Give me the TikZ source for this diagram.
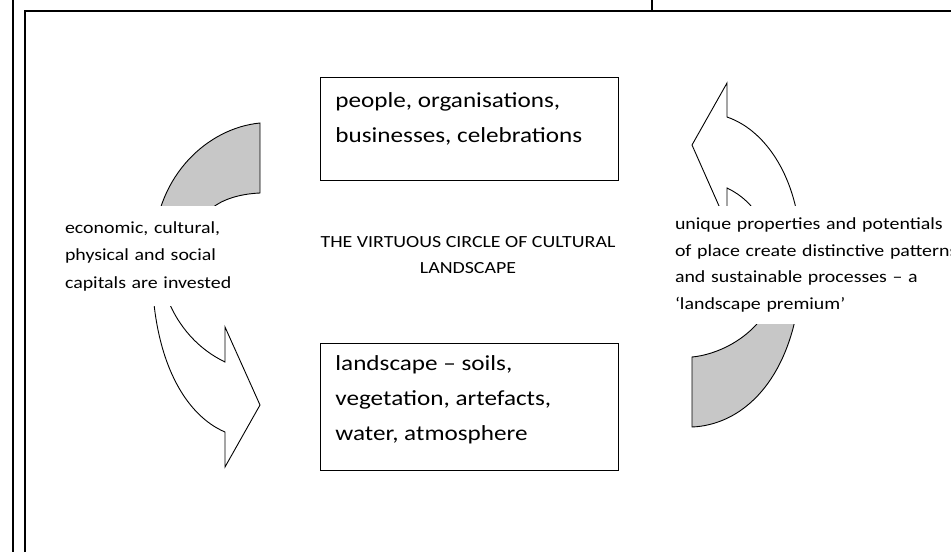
\documentclass[tikz,border=0pt]{standalone}
\usepackage{fontspec}
\setmainfont{Carlito}[FakeStretch=1.17]
\usetikzlibrary{positioning}

\begin{document}
\begin{tikzpicture}
	[
	x=1pt, y=-1pt,
	line width=0.9pt,
	framerule/.style={line width=1.5pt},
	textbox/.style={rectangle, draw=black, line width=1.1pt, anchor=north west, minimum width=298pt},
	boxtext/.style={anchor=north west, inner sep=0pt, align=left, font=\fontsize{21.5}{35}\selectfont},
	sidetext/.style={fill=white, inner xsep=10pt, inner ysep=0pt, align=left},
	backside/.style={draw=black, fill=black!22},
	frontside/.style={draw=black, fill=white}
	]
		\useasboundingbox (0,0) rectangle (951,552);

		% frame
		\draw[framerule] (13,0) -- (13,552);
		\draw[framerule] (25,552) -- (25,11) -- (951,11);
		\draw[framerule] (652,0) -- (652,11);

		% left arrow
		\draw[backside] (260,123) -- (260,193)
			.. controls (238,194) and (222,200) .. (212,208)
			.. controls (200,218) and (192,232) .. (188,245)
			-- (154,245)
			.. controls (157,175) and (208,128) .. (260,123) -- cycle;
		\draw[frontside] (152,270) .. controls (153,360) and (185,415) .. (225,432)
			-- (225,467) -- (260,405) -- (225,327) -- (225,362)
			.. controls (200,350) and (178,328) .. (166,295) -- (164,270) -- cycle;

		% right arrow
		\draw[frontside] (727,83) -- (727,117)
			.. controls (765,130) and (795,175) .. (800,235)
			-- (766,235)
			.. controls (761,215) and (748,198) .. (727,188)
			-- (727,224) -- (692,145) -- cycle;
		\draw[backside] (692,357) -- (692,427)
			.. controls (740,425) and (785,385) .. (798,305)
			-- (770,305)
			.. controls (752,340) and (715,355) .. (692,357) -- cycle;

		% side texts
		\node[sidetext, font=\fontsize{17}{27.5}\selectfont, text width=180pt, minimum height=100pt] (capitals) at (155,256)
			{economic, cultural,\\ physical and social\\ capitals are invested};
		\node[sidetext, font=\fontsize{17}{26.5}\selectfont, text width=290pt, minimum height=118pt] (premium) at (820,265)
			{unique properties and potentials\\ of place create distinctive patterns\\ and sustainable processes -- a\\ `landscape premium'};

		% title
		\node[font=\fontsize{17}{26}\selectfont, align=center] (title) at (468,255)
			{THE VIRTUOUS CIRCLE OF CULTURAL\\ LANDSCAPE};

		% boxes
		\node[textbox, minimum height=103pt] (people) at (320,77) {};
		\node[textbox, minimum height=127pt] (landscape) at (320,343) {};
		\node[boxtext, below right=15.5pt and 15pt of people.north west] (peopletext)
			{people, organisations,\\ businesses, celebrations};
		\node[boxtext, below right=12.5pt and 15pt of landscape.north west] (landscapetext)
			{landscape -- soils,\\ vegetation, artefacts,\\ water, atmosphere};
	\end{tikzpicture}
\end{document}
